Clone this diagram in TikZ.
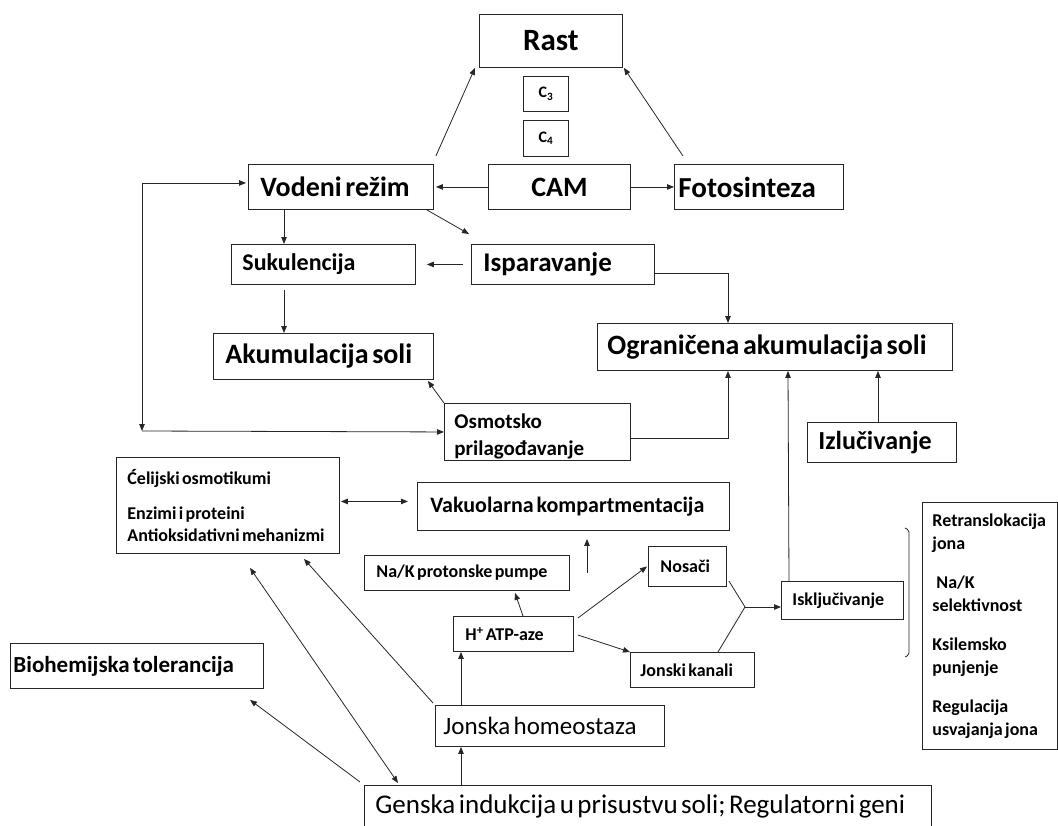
\documentclass[tikz,border=0pt]{standalone}
\usepackage{fontspec}
\setmainfont{Carlito}
\usetikzlibrary{arrows.meta, calc, positioning}

\tikzset{
  box/.style={draw=black!85, line width=0.9pt, anchor=north west, inner xsep=#1, inner ysep=0pt, align=left,
    execute at begin node={\spaceskip=0.13em\relax}},
  box/.default=10pt,
  link/.style={draw=black!85, line width=0.8pt},
}

\begin{document}
\begin{tikzpicture}[x=1pt, y=-1pt, >={Triangle[length=7pt,width=5.5pt]}]
    \useasboundingbox (0,0) rectangle (1058,825);

    \node[box, align=center, text width=123pt, minimum height=53pt, font=\fontsize{31}{34}\selectfont\bfseries] (rast) at (479,14) {Rast};
    \node[box=5pt, align=center, text width=35pt, minimum height=35pt, font=\fontsize{16}{18}\selectfont\bfseries] (c3) at (523,76) {C\textsubscript{3}};
    \node[box=5pt, align=center, text width=35pt, minimum height=36pt, font=\fontsize{16}{18}\selectfont\bfseries] (c4) at (523,120) {C\textsubscript{4}};
    \node[box=12pt, text width=161pt, minimum height=45pt, font=\fontsize{28}{32}\selectfont\bfseries] (vodeni) at (248,164) {Vodeni režim};
    \node[box, align=center, text width=122pt, minimum height=45pt, font=\fontsize{28}{32}\selectfont\bfseries] (cam) at (488,164) {CAM};
    \node[box=4pt, text width=161pt, minimum height=45pt, font=\fontsize{29}{32}\selectfont\bfseries] (foto) at (674,164) {Fotosinteza};
    \node[box=11pt, text width=162pt, minimum height=40pt, font=\fontsize{24}{28}\selectfont\bfseries] (suk) at (231,244) {Sukulencija};
    \node[box=12pt, text width=159pt, minimum height=40pt, font=\fontsize{27}{32}\selectfont\bfseries] (isp) at (471,244) {Isparavanje};
    \node[box=12pt, text width=196pt, minimum height=46pt, font=\fontsize{28}{32}\selectfont\bfseries] (akum) at (213,333) {Akumulacija soli};
    \node[box, text width=335pt, minimum height=47pt, font=\fontsize{28}{32}\selectfont\bfseries] (ogr) at (597,323) {Ograničena akumulacija soli};
    \node[box, text width=166pt, minimum height=57pt, text height=25pt, text depth=32pt, font=\fontsize{21}{27}\selectfont\bfseries] (osm) at (444,403) {Osmotsko\\prilagođavanje};
    \node[box=11pt, text width=127pt, minimum height=40pt, font=\fontsize{26}{30}\selectfont\bfseries] (izl) at (807,422) {Izlučivanje};
    \node[box=11pt, text width=201pt, minimum height=96pt, font=\fontsize{18}{22}\selectfont\bfseries] (cel) at (116,457) {Ćelijski osmotikumi\\[13pt]Enzimi i proteini\\Antioksidativni mehanizmi};
    \node[box=13pt, text width=286pt, minimum height=48pt, font=\fontsize{22}{26}\selectfont\bfseries] (vak) at (417,482) {Vakuolarna kompartmentacija};
    \node[box=12pt, text width=181pt, minimum height=35pt, font=\fontsize{18}{22}\selectfont\bfseries] (nak) at (364,555) {Na/K protonske pumpe};
    \node[box=12pt, text width=96pt, minimum height=35pt, font=\fontsize{18}{22}\selectfont\bfseries] (hatp) at (453,616) {H\textsuperscript{+} ATP-aze};
    \node[box=12pt, text width=54pt, minimum height=40pt, font=\fontsize{18}{22}\selectfont\bfseries] (nos) at (648,546) {Nosači};
    \node[box, text width=104pt, minimum height=35pt, font=\fontsize{18}{22}\selectfont\bfseries] (jkan) at (630,652) {Jonski kanali};
    \node[box=11pt, text width=100pt, minimum height=38pt, font=\fontsize{18}{22}\selectfont\bfseries] (isk) at (781,581) {Isključivanje};
    \node[box, text width=115pt, minimum height=247pt, font=\fontsize{18}{23}\selectfont\bfseries] (lista) at (922,502) {Retranslokacija\\jona\\[16pt]\hspace{4pt}Na/K\\selektivnost\\[16pt]Ksilemsko\\punjenje\\[16pt]Regulacija\\usvajanja jona};
    \node[box=3pt, text width=247pt, minimum height=45pt, font=\fontsize{23}{26}\selectfont\bfseries] (bio) at (10,643) {Biohemijska tolerancija};
    \node[box=8pt, text width=213pt, minimum height=41pt, font=\fontsize{25}{30}\selectfont] (jon) at (435,705) {Jonska homeostaza};
    \node[box=11pt, text width=545pt, minimum height=42pt, font=\fontsize{27}{30}\selectfont] (gen) at (364,785) {Genska indukcija u prisustvu soli; Regulatorni geni};

    \coordinate (loop) at (142,431);
    \coordinate (join) at (745,607);

    \draw[link, ->] ([xshift=2pt,yshift=8pt]vodeni.north east) -- ([xshift=-4pt]rast.south west);
    \draw[link, ->] ([xshift=9pt,yshift=8pt]foto.north west) -- ([xshift=1pt]rast.south east);
    \draw[link, ->] (cam.west) -- ([xshift=2pt]vodeni.east);
    \draw[link, ->] (cam.east) -- (foto.west);
    \draw[link, ->] ([xshift=36pt]vodeni.south west) -- ([xshift=53pt]suk.north west);
    \draw[link, ->] ([xshift=-7pt]vodeni.south east) -- ([xshift=-2pt,yshift=10pt]isp.north west);
    \draw[link, ->] ([xshift=-8pt]isp.west) -- ([xshift=11pt]suk.east);
    \draw[link, ->] ([xshift=53pt,yshift=-5pt]suk.south west) -- ([xshift=71pt]akum.north west);
    \draw[link, ->] ([yshift=-9pt]isp.east) -| ([xshift=131pt]ogr.north west);
    \draw[link, ->] ([yshift=-6pt]osm.east) -| ([xshift=131pt]ogr.south west);
    \draw[link, ->] (osm.north west) -- ([xshift=-6pt,yshift=-1pt]akum.south east);
    \draw[link, <->] ([xshift=-2pt,yshift=4pt]vodeni.west) -| (loop);
    \draw[link, ->] (loop) -- (osm.west);
    \draw[link, ->] ([xshift=8pt]isk.north west) -- ([xshift=191pt]ogr.south west);
    \draw[link, ->] ([xshift=71pt]izl.north west) -- ([xshift=281pt]ogr.south west);
    \draw[link, <->] ([xshift=1pt,yshift=4pt]cel.east) -- ([xshift=-9pt,yshift=5pt]vak.west);
    \draw[link, ->] ([xshift=170pt,yshift=-42pt]vak.south west) -- ([xshift=170pt,yshift=-8pt]vak.south west);
    \draw[link, ->] ([xshift=70pt]hatp.north west) -- ([xshift=151pt,yshift=-2pt]nak.south west);
    \draw[link, ->] ([xshift=4pt,yshift=-2pt]hatp.north east) -- ([xshift=-1pt]nos.west);
    \draw[link, ->] ([xshift=4pt,yshift=-19pt]hatp.north east) -- (jkan.north west);
    \draw[link] ([xshift=2pt,yshift=-35pt]nos.north east) -- (join);
    \draw[link] ([xshift=88pt]jkan.north west) -- (join);
    \draw[link, ->] (join) -- (isk.west |- join);
    \draw[link, ->] ([xshift=26pt]jon.north west) -- ([xshift=8pt]hatp.south west);
    \draw[link, ->] ([xshift=97pt]gen.north west) -- ([xshift=26pt]jon.south west);
    \draw[link, ->] ([xshift=-2pt,yshift=2pt]jon.north west) -- ([xshift=188pt,yshift=-5pt]cel.south west);
    \draw[link, <->] ([xshift=134pt,yshift=-14pt]cel.south west) -- ([xshift=34pt,yshift=2pt]gen.north west);
    \draw[link, ->] ([xshift=-4pt,yshift=3pt]gen.north west) -- ([xshift=240pt,yshift=-11pt]bio.south west);

    \draw[link, rounded corners=2pt] (905,528) -- (909,530) -- (909,655) -- (905,657);
\end{tikzpicture}
\end{document}
